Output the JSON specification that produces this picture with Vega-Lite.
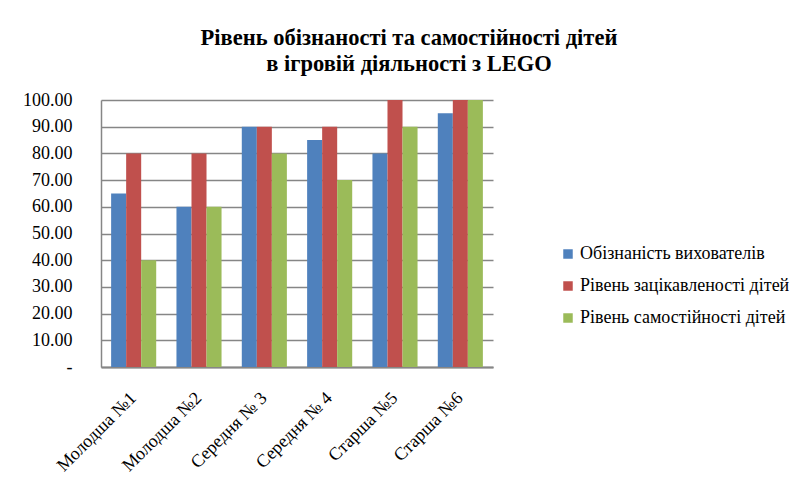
{
  "$schema": "https://vega.github.io/schema/vega-lite/v6.json",
  "width": 392,
  "height": 267,
  "autosize": "none",
  "padding": {"left": 101, "top": 100, "right": 303, "bottom": 123},
  "background": "white",
  "title": {
    "text": ["Рівень обізнаності та самостійності  дітей", "в ігровій діяльності з LEGO"],
    "font": "Liberation Serif",
    "fontSize": 22.5,
    "fontWeight": "bold",
    "color": "black",
    "anchor": "middle",
    "dx": 112,
    "offset": 16,
    "lineHeight": 26
  },
  "data": {
    "values": [
      {"group": "Молодша №1", "series": "Обізнаність вихователів", "value": 65},
      {"group": "Молодша №1", "series": "Рівень зацікавленості дітей", "value": 80},
      {"group": "Молодша №1", "series": "Рівень самостійності дітей", "value": 40},
      {"group": "Молодша №2", "series": "Обізнаність вихователів", "value": 60},
      {"group": "Молодша №2", "series": "Рівень зацікавленості дітей", "value": 80},
      {"group": "Молодша №2", "series": "Рівень самостійності дітей", "value": 60},
      {"group": "Середня № 3", "series": "Обізнаність вихователів", "value": 90},
      {"group": "Середня № 3", "series": "Рівень зацікавленості дітей", "value": 90},
      {"group": "Середня № 3", "series": "Рівень самостійності дітей", "value": 80},
      {"group": "Середня № 4", "series": "Обізнаність вихователів", "value": 85},
      {"group": "Середня № 4", "series": "Рівень зацікавленості дітей", "value": 90},
      {"group": "Середня № 4", "series": "Рівень самостійності дітей", "value": 70},
      {"group": "Старша №5", "series": "Обізнаність вихователів", "value": 80},
      {"group": "Старша №5", "series": "Рівень зацікавленості дітей", "value": 100},
      {"group": "Старша №5", "series": "Рівень самостійності дітей", "value": 90},
      {"group": "Старша №6", "series": "Обізнаність вихователів", "value": 95},
      {"group": "Старша №6", "series": "Рівень зацікавленості дітей", "value": 100},
      {"group": "Старша №6", "series": "Рівень самостійності дітей", "value": 100}
    ]
  },
  "mark": {"type": "bar"},
  "encoding": {
    "x": {
      "field": "group",
      "type": "nominal",
      "sort": null,
      "title": null,
      "scale": {"paddingInner": 0.31, "paddingOuter": 0.155},
      "axis": {
        "labelAngle": -45,
        "labelAlign": "right",
        "labelBaseline": "middle",
        "labelFont": "Liberation Serif",
        "labelFontSize": 18,
        "labelColor": "black",
        "labelPadding": 28,
        "ticks": false,
        "domainColor": "#868686",
        "domainWidth": 2
      }
    },
    "xOffset": {"field": "series", "type": "nominal", "sort": null, "scale": {"paddingInner": 0, "paddingOuter": 0}},
    "y": {
      "field": "value",
      "type": "quantitative",
      "title": null,
      "scale": {"domain": [0, 100], "nice": false},
      "axis": {
        "values": [0, 10, 20, 30, 40, 50, 60, 70, 80, 90, 100],
        "labelExpr": "datum.value == 0 ? '-' : format(datum.value, '.2f')",
        "labelFont": "Liberation Serif",
        "labelFontSize": 18,
        "labelColor": "black",
        "labelPadding": 29,
        "ticks": false,
        "grid": true,
        "gridColor": "#868686",
        "gridWidth": 1.5,
        "domainColor": "#868686",
        "domainWidth": 1.5
      }
    },
    "color": {
      "field": "series",
      "type": "nominal",
      "sort": null,
      "scale": {"range": ["#4F81BD", "#C0504D", "#9BBB59"]},
      "legend": {
        "title": null,
        "orient": "none",
        "legendX": 458,
        "legendY": 145,
        "symbolType": "square",
        "symbolSize": 90,
        "symbolStrokeWidth": 0,
        "labelFont": "Liberation Serif",
        "labelFontSize": 18,
        "labelColor": "black",
        "labelLimit": 300,
        "rowPadding": 14,
        "labelOffset": 3
      }
    }
  },
  "config": {
    "font": "Liberation Serif",
    "view": {"stroke": null}
  }
}
